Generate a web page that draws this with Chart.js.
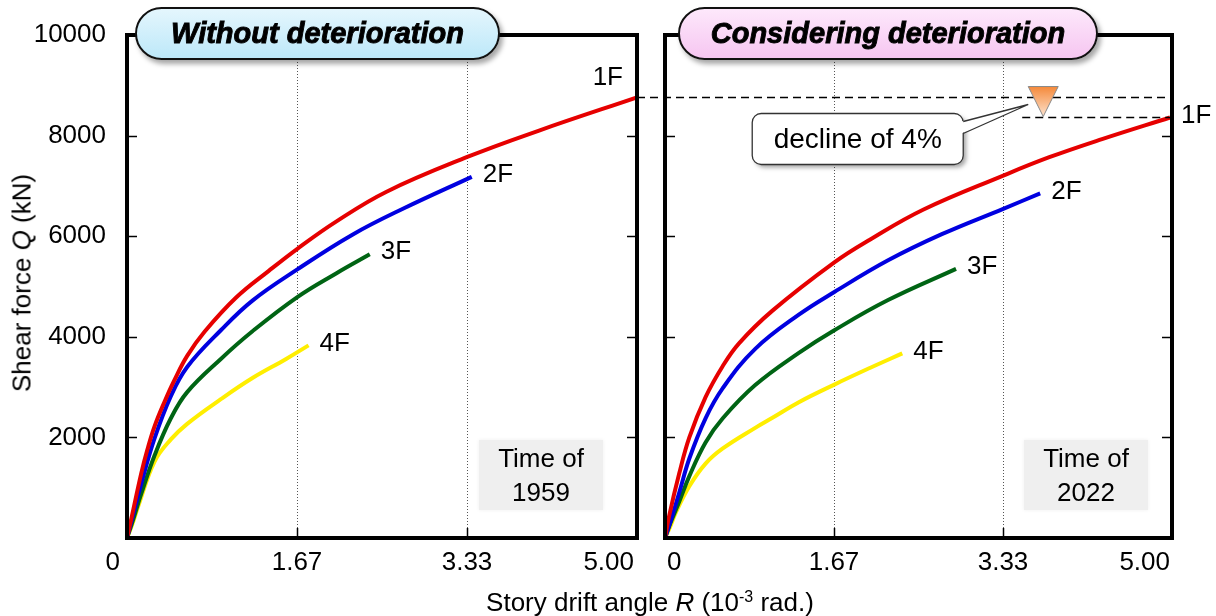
<!DOCTYPE html>
<html lang="en">
<head>
<meta charset="UTF-8">
<title>Shear force vs story drift angle</title>
<script src="https://cdn.jsdelivr.net/npm/chart.js"></script>
<style>
  body { margin: 0; background: #fff; font-family: "Liberation Sans", Arial, sans-serif; color: #000; }
  #wrap { position: relative; width: 1216px; height: 616px; overflow: hidden; }
  canvas { position: absolute; top: 0; }
  #c1959 { left: 0; }
  #c2022 { left: 630px; }
  .pill { position: absolute; top: 7px; height: 53px; box-sizing: border-box; border: 2px solid #111;
          border-radius: 27px; box-shadow: 3px 4px 5px rgba(0,0,0,.35); display: flex; align-items: center;
          justify-content: center; font-weight: bold; font-style: italic; font-size: 29px;
          -webkit-text-stroke: 0.9px #000; z-index: 2; }
  #p1 { left: 135px; width: 365px; background: linear-gradient(#e4f6fd, #bde8f9); }
  #p2 { left: 678px; width: 420px; background: linear-gradient(#fde8fb, #f6c6f1); }
  .tbox { position: absolute; top: 440px; width: 124px; height: 70px; background: #efefef;
          box-shadow: 0 0 4px #efefef; text-align: center; font-size: 26px; line-height: 34px; padding-top: 1px;
          box-sizing: border-box; z-index: 1; }
  #t1 { left: 479px; }
  #t2 { left: 1024px; }
  .axt { position: absolute; font-size: 26px; white-space: nowrap; transform: translate(-50%, -50%); }
  #xt { left: 650px; top: 602px; }
  #yt { left: 22px; top: 283px; transform: translate(-50%, -50%) rotate(-90deg); }
  sup { font-size: 16px; vertical-align: 9px; line-height: 0; }
</style>
</head>
<body>
<div id="wrap">
  <canvas id="c1959" width="645" height="616"></canvas>
  <canvas id="c2022" width="586" height="616"></canvas>
  <div class="pill" id="p1">Without deterioration</div>
  <div class="pill" id="p2">Considering deterioration</div>
  <div class="tbox" id="t1">Time of<br>1959</div>
  <div class="tbox" id="t2">Time of<br>2022</div>
  <div class="axt" id="xt">Story drift angle <i>R</i> (10<sup>-3</sup> rad.)</div>
  <div class="axt" id="yt">Shear force <i>Q</i> (kN)</div>
</div>

<script>
// story drift angle R (1e-3 rad) / shear force Q (kN)
const R_1959_1F = [0, 0.04, 0.14, 0.2, 0.27, 0.37, 0.46, 0.59, 0.76, 1.07, 1.39, 1.67, 2.05, 2.54, 3.33, 4.04, 5.00];
const Q_1959_1F = [0, 360, 1290, 1760, 2220, 2720, 3120, 3620, 4100, 4780, 5310, 5750, 6290, 6880, 7570, 8100, 8760];
const R_1959_2F = [0, 0.05, 0.14, 0.27, 0.43, 0.59, 0.92, 1.23, 1.67, 2.21, 2.71, 3.38];
const Q_1959_2F = [0, 380, 1080, 1980, 2820, 3400, 4130, 4720, 5340, 6030, 6550, 7180];
const R_1959_3F = [0, 0.05, 0.14, 0.27, 0.43, 0.59, 0.92, 1.23, 1.67, 2.05, 2.38];
const Q_1959_3F = [0, 300, 880, 1640, 2380, 2900, 3560, 4110, 4790, 5260, 5640];
const R_1959_4F = [0, 0.05, 0.11, 0.27, 0.43, 0.59, 0.92, 1.23, 1.56, 1.78];
const Q_1959_4F = [0, 260, 630, 1520, 1960, 2270, 2760, 3180, 3560, 3830];

const R_2022_1F = [0, 0.04, 0.14, 0.24, 0.40, 0.57, 0.73, 1.06, 1.67, 2.02, 2.55, 3.33, 3.79, 4.31, 4.98];
const Q_2022_1F = [0, 430, 1280, 2000, 2800, 3420, 3870, 4520, 5480, 5930, 6530, 7200, 7570, 7930, 8360];
const R_2022_2F = [0, 0.05, 0.14, 0.24, 0.40, 0.57, 0.89, 1.32, 1.67, 2.20, 2.73, 3.33, 3.70];
const Q_2022_2F = [0, 300, 900, 1580, 2380, 2980, 3760, 4440, 4890, 5520, 6040, 6540, 6850];
const R_2022_3F = [0, 0.05, 0.14, 0.24, 0.40, 0.57, 0.89, 1.32, 1.67, 2.20, 2.87];
const Q_2022_3F = [0, 280, 720, 1230, 1900, 2380, 3040, 3680, 4130, 4730, 5350];
const R_2022_4F = [0, 0.05, 0.105, 0.24, 0.40, 0.57, 0.89, 1.06, 1.32, 1.67, 2.02, 2.34];
const Q_2022_4F = [0, 220, 500, 1030, 1480, 1780, 2190, 2390, 2700, 3050, 3380, 3670];

const FLOORS = ['1F', '2F', '3F', '4F'];
const X_TICKS = [0, 5 / 3, 10 / 3, 5];
const X_TICK_LABELS = ['0', '1.67', '3.33', '5.00'];
const Y_TICKS = [0, 2000, 4000, 6000, 8000, 10000];
const Y_TICK_LABELS = ['', '2000', '4000', '6000', '8000', '10000'];
const DECLINE_AT = 3.73;

const COLORS = ['#e60000', '#0000e0', '#006414', '#ffee00'];
const FONT = '"Liberation Sans", Arial, sans-serif';

function seg(ctx, x1, y1, x2, y2) {
  ctx.beginPath(); ctx.moveTo(x1, y1); ctx.lineTo(x2, y2); ctx.stroke();
}

function roundRect(ctx, x, y, w, h, r) {
  ctx.beginPath();
  ctx.moveTo(x + r, y);
  ctx.arcTo(x + w, y, x + w, y + h, r);
  ctx.arcTo(x + w, y + h, x, y + h, r);
  ctx.arcTo(x, y + h, x, y, r);
  ctx.arcTo(x, y, x + w, y, r);
  ctx.closePath();
}

const panelDecor = {
  id: 'panelDecor',
  beforeDatasetsDraw(chart) {
    const { ctx, chartArea: a, scales: { x } } = chart;
    ctx.save();
    ctx.strokeStyle = '#555';
    ctx.lineWidth = 1;
    ctx.setLineDash([1, 2]);
    x.ticks.forEach(t => {
      if (t.value <= x.min || t.value >= x.max) return;
      const px = Math.round(x.getPixelForValue(t.value)) + 0.5;
      seg(ctx, px, a.top, px, a.bottom);
    });
    ctx.restore();
  },
  afterDatasetsDraw(chart, args, o) {
    const { ctx, chartArea: a, scales: { x, y } } = chart;
    ctx.save();
    // inward tick marks
    ctx.strokeStyle = '#000';
    ctx.lineWidth = 1.5;
    y.ticks.forEach(t => {
      if (t.value <= y.min || t.value >= y.max) return;
      const py = Math.round(y.getPixelForValue(t.value)) + 0.5;
      seg(ctx, a.left, py, a.left + 10, py);
      seg(ctx, a.right - 10, py, a.right, py);
    });
    x.ticks.forEach(t => {
      if (t.value <= x.min || t.value >= x.max) return;
      const px = Math.round(x.getPixelForValue(t.value)) + 0.5;
      seg(ctx, px, a.bottom, px, a.bottom - 10);
    });
    // frame
    ctx.lineWidth = 4;
    ctx.strokeRect(a.left, a.top, a.width, a.height);

    // x tick labels
    ctx.font = '26px ' + FONT;
    ctx.fillStyle = '#000';
    ctx.textBaseline = 'middle';
    x.ticks.forEach((t, i) => {
      ctx.textAlign = o.xAlign[i];
      ctx.fillText(X_TICK_LABELS[i], x.getPixelForValue(t.value) + o.xShift[i], a.bottom + 25);
    });

    // floor labels at the end of each curve
    chart.data.datasets.forEach((ds, i) => {
      const last = ds.data[ds.data.length - 1];
      const ex = x.getPixelForValue(last.x), ey = y.getPixelForValue(last.y);
      if (o.topLabel && i === 0) {
        ctx.textAlign = 'right';
        ctx.fillText(ds.label, ex - 14, ey - 20);
      } else {
        ctx.textAlign = 'left';
        ctx.fillText(ds.label, ex + 11, ey - 2);
      }
    });

    if (o.decline) {
      const d = o.decline;
      const uy = Math.round(y.getPixelForValue(d.from)) + 0.5;
      const ly = Math.round(y.getPixelForValue(d.to)) + 0.5;
      const tx = x.getPixelForValue(d.at);
      ctx.strokeStyle = '#000';
      ctx.lineWidth = 1.5;
      ctx.setLineDash([8, 5]);
      seg(ctx, d.startX, uy, a.right, uy);
      seg(ctx, tx - 21, ly, a.right, ly);
      ctx.setLineDash([]);

      // marker triangle
      const g = ctx.createLinearGradient(0, uy - 11, 0, ly);
      g.addColorStop(0, '#f5893a');
      g.addColorStop(1, '#fde6d4');
      ctx.beginPath();
      ctx.moveTo(tx - 15, uy - 11);
      ctx.lineTo(tx + 15, uy - 11);
      ctx.lineTo(tx, ly - 1);
      ctx.closePath();
      ctx.fillStyle = g;
      ctx.fill();
      ctx.strokeStyle = '#8a8a8a';
      ctx.lineWidth = 1;
      ctx.stroke();

      // callout box
      const bx = tx - 291, by = uy + 16, bw = 211, bh = 51;
      ctx.save();
      ctx.shadowColor = 'rgba(0,0,0,0.35)';
      ctx.shadowOffsetX = 3; ctx.shadowOffsetY = 3; ctx.shadowBlur = 4;
      roundRect(ctx, bx, by, bw, bh, 9);
      ctx.fillStyle = '#fff';
      ctx.fill();
      ctx.restore();
      roundRect(ctx, bx, by, bw, bh, 9);
      ctx.strokeStyle = '#333';
      ctx.lineWidth = 1.3;
      ctx.stroke();
      // pointer
      ctx.beginPath();
      ctx.moveTo(bx + bw - 2, uy + 24);
      ctx.lineTo(tx - 15, uy + 7);
      ctx.lineTo(bx + bw - 2, uy + 36);
      ctx.closePath();
      ctx.fillStyle = '#fff';
      ctx.fill();
      ctx.beginPath();
      ctx.moveTo(bx + bw, uy + 24);
      ctx.lineTo(tx - 15, uy + 7);
      ctx.lineTo(bx + bw, uy + 36);
      ctx.stroke();
      ctx.fillStyle = '#000';
      ctx.textAlign = 'center';
      ctx.font = '28px ' + FONT;
      ctx.fillText(d.text, bx + bw / 2, by + bh / 2 + 1);
    }
    ctx.restore();
  }
};

function panel(id, rs, qs, opts) {
  return new Chart(document.getElementById(id), {
    type: 'line',
    data: {
      datasets: FLOORS.map((f, i) => ({
        label: f,
        data: rs[i].map((r, k) => ({ x: r, y: qs[i][k] })),
        borderColor: COLORS[i],
        borderWidth: 4,
        pointRadius: 0,
        tension: 0.4,
        fill: false
      }))
    },
    options: {
      responsive: false,
      animation: false,
      events: [],
      layout: { padding: opts.padding },
      plugins: {
        legend: { display: false },
        tooltip: { enabled: false },
        panelDecor: opts.decor
      },
      scales: {
        x: {
          type: 'linear', min: 0, max: 5,
          afterBuildTicks: s => { s.ticks = X_TICKS.map(v => ({ value: v })); },
          afterFit: s => { s.height = 78; },
          ticks: { display: false },
          grid: { display: false },
          border: { display: false }
        },
        y: {
          type: 'linear', min: 0, max: 10000,
          afterBuildTicks: s => { s.ticks = Y_TICKS.map(v => ({ value: v })); },
          afterFit: s => { s.width = opts.yWidth; },
          ticks: {
            display: opts.yLabels, padding: 13, color: '#000',
            font: { size: 26, family: FONT },
            callback: (v, i) => Y_TICK_LABELS[i]
          },
          grid: { display: false },
          border: { display: false }
        }
      }
    },
    plugins: [panelDecor]
  });
}

panel('c1959',
  [R_1959_1F, R_1959_2F, R_1959_3F, R_1959_4F],
  [Q_1959_1F, Q_1959_2F, Q_1959_3F, Q_1959_4F],
  {
    padding: { top: 35, right: 8, left: 0, bottom: 0 },
    yWidth: 127, yLabels: true,
    decor: { xAlign: ['right', 'center', 'center', 'right'], xShift: [-7, 0, 0, -3], topLabel: true }
  });

panel('c2022',
  [R_2022_1F, R_2022_2F, R_2022_3F, R_2022_4F],
  [Q_2022_1F, Q_2022_2F, Q_2022_3F, Q_2022_4F],
  {
    padding: { top: 35, right: 44, left: 0, bottom: 0 },
    yWidth: 35, yLabels: false,
    decor: {
      xAlign: ['left', 'center', 'center', 'right'], xShift: [2, 0, 0, -2], topLabel: false,
      decline: {
        from: Q_1959_1F[Q_1959_1F.length - 1],
        to: Q_2022_1F[Q_2022_1F.length - 1],
        at: DECLINE_AT, startX: 7, text: 'decline of 4%'
      }
    }
  });
</script>
</body>
</html>
